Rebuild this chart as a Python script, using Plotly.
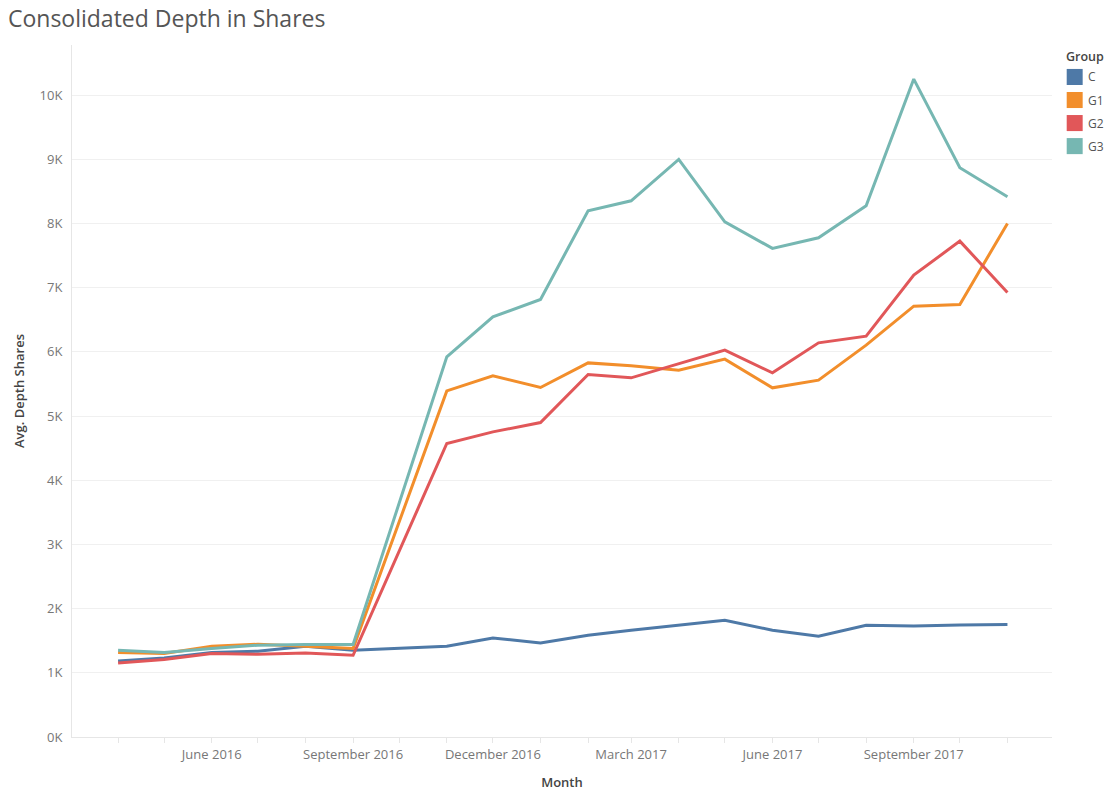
import plotly.graph_objects as go

months = ["2016-04-01", "2016-05-01", "2016-06-01", "2016-07-01", "2016-08-01",
          "2016-09-01", "2016-10-01", "2016-11-01", "2016-12-01", "2017-01-01",
          "2017-02-01", "2017-03-01", "2017-04-01", "2017-05-01", "2017-06-01",
          "2017-07-01", "2017-08-01", "2017-09-01", "2017-10-01", "2017-11-01"]

groups = ["C", "G1", "G2", "G3"]
colors = ["#4e79a7", "#f28e2b", "#e15759", "#76b7b2"]

c_vals = [1184, 1231, 1315, 1336, 1413, 1351, None, 1413, 1543, 1465,
          1585, 1663, 1741, 1819, 1663, 1569, 1741, 1730, 1746, 1752]
g1_vals = [1315, 1300, 1413, 1445, 1413, 1378, None, 5392, 5626, 5444,
           5828, 5782, 5715, 5886, 5439, 5559, 6104, 6712, 6738, 8000]
g2_vals = [1153, 1206, 1300, 1289, 1309, 1273, None, 4572, 4753, 4899,
           5647, 5595, 5808, 6026, 5673, 6140, 6244, 7195, 7725, 6925]
g3_vals = [1351, 1315, 1378, 1430, 1440, 1440, None, 5922, 6545, 6816,
           8197, 8353, 8998, 8026, 7611, 7777, 8275, 10249, 8867, 8415]

series = [c_vals, g1_vals, g2_vals, g3_vals]

y_tickvals = [0, 1000, 2000, 3000, 4000, 5000, 6000, 7000, 8000, 9000, 10000]
y_ticktext = ["0K", "1K", "2K", "3K", "4K", "5K", "6K", "7K", "8K", "9K", "10K"]

FONT = "Open Sans"
GRID = "#f0f0f0"
AXLINE = "#e6e6e6"
TICKC = "#777777"
TITLEC = "#444444"

fig = go.Figure()
for name, vals, col in zip(groups, series, colors):
    fig.add_trace(go.Scatter(
        x=months, y=vals, name=name, mode="lines",
        line=dict(color=col, width=3), connectgaps=True, showlegend=False,
    ))

# Manual legend with square swatches (paper coordinates, right of the plot)
for i, (name, col) in enumerate(zip(groups, colors)):
    yc = 0.9538 - i * 0.0333
    fig.add_shape(type="rect", xref="paper", yref="paper",
                  x0=1.0150, x1=1.0313, y0=yc - 0.0116, y1=yc + 0.0116,
                  fillcolor=col, line=dict(width=0))
    fig.add_annotation(x=1.0350, y=yc, xref="paper", yref="paper",
                       text=name, showarrow=False, xanchor="left", yanchor="middle",
                       font=dict(family=FONT, size=12, color="#555555"))
fig.add_annotation(x=1.0118, y=0.9827, xref="paper", yref="paper",
                   text="Group", showarrow=False, xanchor="left", yanchor="middle",
                   font=dict(family=FONT, size=12.5, color=TITLEC, weight=600))

fig.update_layout(
    width=1105, height=791,
    margin=dict(l=72, r=53, t=45, b=54, autoexpand=False),
    paper_bgcolor="white", plot_bgcolor="white",
    font=dict(family=FONT, size=13, color=TICKC),
    title=dict(text="Consolidated Depth in Shares", x=0.0072, xanchor="left",
               y=0.976, yanchor="middle",
               font=dict(family=FONT, size=23, color="#555555")),
    xaxis=dict(
        type="date",
        range=["2016-03-02", "2017-11-30"],
        tick0="2016-06-01", dtick="M3", tickformat="%B %Y",
        ticks="outside", ticklen=5, tickcolor=AXLINE,
        minor=dict(dtick="M1", ticks="outside", ticklen=5, tickcolor=AXLINE, showgrid=False),
        showgrid=False, showline=True, linecolor=AXLINE, linewidth=1,
        tickfont=dict(family=FONT, size=13, color=TICKC),
        title=dict(text="Month", font=dict(family=FONT, size=13, color=TITLEC, weight=600), standoff=17),
        zeroline=False,
    ),
    yaxis=dict(
        range=[0, 10780],
        tickvals=y_tickvals, ticktext=y_ticktext,
        showgrid=True, gridcolor=GRID, gridwidth=1,
        showline=True, linecolor=AXLINE, linewidth=1,
        zeroline=False, ticks="", ticklabelstandoff=6,
        tickfont=dict(family=FONT, size=13, color=TICKC),
        title=dict(text="Avg. Depth Shares", font=dict(family=FONT, size=13, color=TITLEC, weight=600), standoff=12),
    ),
)

fig.write_html(
    "out.html",
    config={"displayModeBar": False},
    post_script="document.body.style.margin='0';document.body.style.overflow='hidden';",
)
